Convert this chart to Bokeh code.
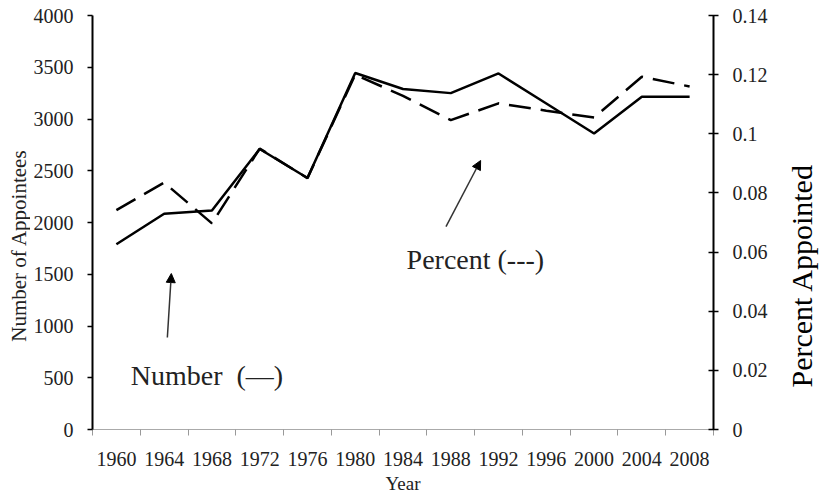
import math
from bokeh.plotting import figure
from bokeh.layouts import row
from bokeh.models import (Range1d, LinearAxis, FixedTicker, PrintfTickFormatter,
                          Label, Arrow, NormalHead)
from bokeh.embed import file_html
from bokeh.resources import INLINE

# ---- data ----
years = [1960, 1964, 1968, 1972, 1976, 1980, 1984, 1988, 1992, 1996, 2000, 2004, 2008]
number = [1790, 2085, 2115, 2710, 2430, 3445, 3290, 3250, 3440, 3150, 2860, 3215, 3215]
percent = [0.0742, 0.0835, 0.0697, 0.0950, 0.0850, 0.1200, 0.1128, 0.1046, 0.1103, 0.1078, 0.1055, 0.1193, 0.1160]
num_ticks = [0, 500, 1000, 1500, 2000, 2500, 3000, 3500, 4000]
pct_ticks = [0, 0.02, 0.04, 0.06, 0.08, 0.1, 0.12, 0.14]

FONT = "Liberation Serif"
TXT = "#222222"

p = figure(frame_width=621, frame_height=414, output_backend="svg", toolbar_location=None,
           x_range=Range1d(years[0] - 2, years[-1] + 2), y_range=Range1d(0, 4000),
           min_border_left=62, min_border_top=15, min_border_right=72, min_border_bottom=63,
           y_axis_location="left")
p.outline_line_color = None
p.xgrid.visible = False
p.ygrid.visible = False
p.background_fill_color = "white"

p.extra_y_ranges = {"pct": Range1d(0, 0.14)}

# x axis
xa = p.xaxis[0]
boundaries = [y - 2 for y in years] + [years[-1] + 2]
xa.ticker = FixedTicker(ticks=years, minor_ticks=boundaries)
xa.major_tick_in = 0
xa.major_tick_out = 0
xa.minor_tick_in = 0
xa.minor_tick_out = 6
xa.minor_tick_line_color = "#999999"
xa.axis_line_color = "#aaaaaa"
xa.axis_line_width = 1
xa.major_label_text_font = FONT
xa.major_label_text_font_size = "20px"
xa.major_label_text_color = TXT
xa.major_label_standoff = 16
xa.axis_label = "Year"
xa.axis_label_text_font = FONT
xa.axis_label_text_font_size = "19px"
xa.axis_label_text_font_style = "normal"
xa.axis_label_text_color = TXT
xa.axis_label_standoff = 4

# left axis
ya = p.yaxis[0]
ya.ticker = FixedTicker(ticks=num_ticks)
ya.major_tick_in = 0
ya.major_tick_out = 5
ya.minor_tick_out = 0
ya.minor_tick_in = 0
ya.axis_line_width = 2
ya.axis_line_color = "black"
ya.major_tick_line_width = 1.5
ya.major_label_text_font = FONT
ya.major_label_text_font_size = "20px"
ya.major_label_text_color = TXT
ya.major_label_standoff = 14

# right axis
ra = LinearAxis(y_range_name="pct", ticker=FixedTicker(ticks=pct_ticks),
                formatter=PrintfTickFormatter(format="%g"))
ra.major_tick_in = 5
ra.major_tick_out = 5
ra.minor_tick_in = 0
ra.minor_tick_out = 0
ra.axis_line_width = 2
ra.axis_line_color = "black"
ra.major_tick_line_width = 1.5
ra.major_label_text_font = FONT
ra.major_label_text_font_size = "20px"
ra.major_label_text_color = TXT
ra.major_label_standoff = 14
p.add_layout(ra, "right")

# lines
p.line(years, number, line_color="black", line_width=2.5)
p.line(years, percent, y_range_name="pct", line_color="black", line_width=2.5,
       line_dash="22 10")

# annotations
p.add_layout(Label(x=1961.2, y=521, text="Number \u00a0(\u2014)", text_font=FONT,
                   text_font_size="28px", text_color=TXT, text_baseline="alphabetic"))
p.add_layout(Label(x=1984.3, y=1640, text="Percent (---)", text_font=FONT,
                   text_font_size="28px", text_color=TXT, text_baseline="alphabetic"))
p.add_layout(Arrow(x_start=1964.27, y_start=889, x_end=1964.6, y_end=1507,
                   line_color="#333333", line_width=1.5,
                   end=NormalHead(size=9, fill_color="black", line_color="black")))
p.add_layout(Arrow(x_start=1987.6, y_start=1961, x_end=1990.5, y_end=2599,
                   line_color="#333333", line_width=1.5,
                   end=NormalHead(size=9, fill_color="black", line_color="black")))


def side_panel(width, label_text, x, y, size, color):
    s = figure(frame_width=width, frame_height=414, output_backend="svg", toolbar_location=None,
               x_range=Range1d(0, 1), y_range=p.y_range,
               min_border_left=0, min_border_right=0, min_border_top=15, min_border_bottom=63)
    s.axis.visible = False
    s.grid.visible = False
    s.outline_line_color = None
    s.add_layout(Label(x=x, y=y, text=label_text, angle=math.pi / 2,
                       text_font=FONT, text_font_size=size, text_color=color,
                       text_align="center", text_baseline="middle"))
    return s


left_side = side_panel(30, "Number of Appointees", 0.6, 1778, "21px", TXT)
right_side = side_panel(34, "Percent Appointed", 0.47, 1488, "30px", "black")

layout = row(left_side, p, right_side, spacing=0)
open("out.html", "w").write(file_html(layout, INLINE))
